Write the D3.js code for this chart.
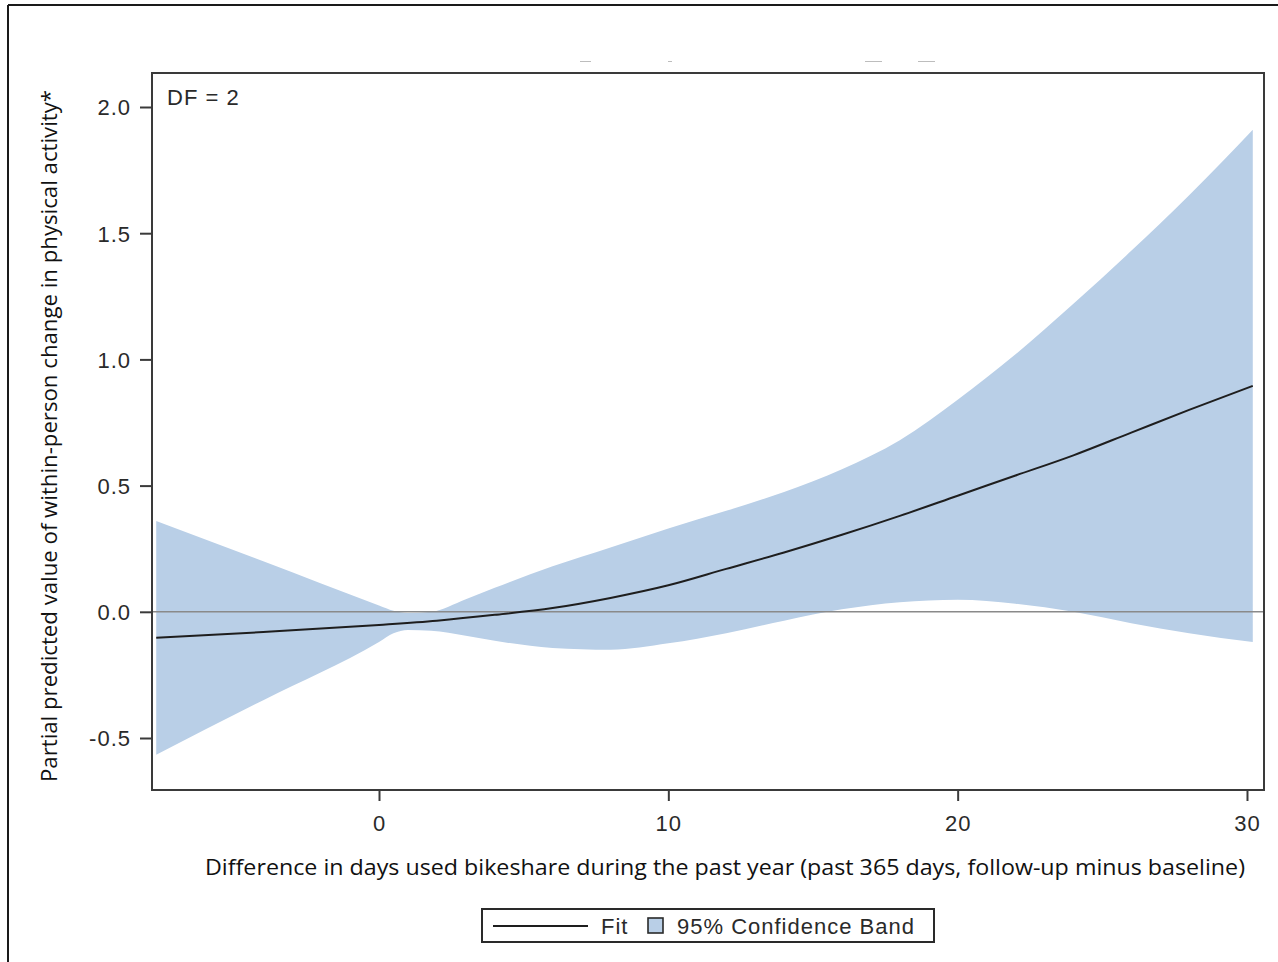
<!DOCTYPE html>
<html><head><meta charset="utf-8">
<script src="https://cdn.jsdelivr.net/npm/d3@7"></script>
<style>html,body{margin:0;padding:0;background:#fff;}svg{display:block;}</style>
</head><body>
<svg id="chart" width="1278" height="962"></svg>
<script>
// ---- data ----
const xVals   = [-7.7, -4, 0, 0.5, 1, 1.8, 3, 4, 6, 8, 10, 12, 14, 16, 18, 20, 22, 24, 26, 28, 30.2];
const upper   = [0.36, 0.20, 0.025, 0.004, -0.005, 0.0, 0.05, 0.095, 0.18, 0.255, 0.33, 0.40, 0.475, 0.565, 0.68, 0.84, 1.02, 1.22, 1.43, 1.65, 1.91];
const lower   = [-0.566, -0.35, -0.12, -0.085, -0.072, -0.075, -0.095, -0.115, -0.143, -0.15, -0.125, -0.085, -0.035, 0.01, 0.038, 0.048, 0.032, 0.0, -0.045, -0.085, -0.12];
const fitX    = [-7.7, -4, 0, 2, 4, 6, 8, 10, 12, 14, 16, 18, 20, 22, 24, 26, 28, 30.2];
const fitY    = [-0.103, -0.08, -0.052, -0.035, -0.012, 0.015, 0.055, 0.105, 0.17, 0.235, 0.305, 0.38, 0.46, 0.54, 0.62, 0.71, 0.80, 0.895];
const xTicks  = [0, 10, 20, 30];
const yTicks  = [-0.5, 0.0, 0.5, 1.0, 1.5, 2.0];
const xDomain = [-7.846, 30.588];
const yDomain = [-0.706, 2.1347];
const xTitle  = "Difference in days used bikeshare during the past year (past 365 days, follow-up minus baseline)";
const yTitle  = "Partial predicted value of within-person change in physical activity*";
const insetText = "DF = 2";
const legendItems = ["Fit", "95% Confidence Band"];

// ---- layout ----
const L = 152, R = 1264, T = 73, B = 790;
const svg = d3.select("#chart");
const x = d3.scaleLinear().domain(xDomain).range([L, R]);
const y = d3.scaleLinear().domain(yDomain).range([B, T]);
const frameCol = "#3a3a3a";
const bandCol = "#b9cfe7";
const tickFont = "'Liberation Sans', Arial, sans-serif";
const labelFont = "'Open Sans', 'Noto Sans', sans-serif";
const tickSize = "22px", tickSpacing = "1px";

// outer border (cropped figure frame)
svg.append("line").attr("x1", 8).attr("y1", 5).attr("x2", 1278).attr("y2", 5).attr("stroke", "#1a1a1a").attr("stroke-width", 2);
svg.append("line").attr("x1", 8).attr("y1", 5).attr("x2", 8).attr("y2", 962).attr("stroke", "#1a1a1a").attr("stroke-width", 2);

// faint remnants of cut-off title
[[580, 591], [668, 672], [865, 882], [918, 935]].forEach(([a, b]) => {
  svg.append("line").attr("x1", a).attr("x2", b).attr("y1", 61.5).attr("y2", 61.5)
    .attr("stroke", "#bdbdbd").attr("stroke-width", 1);
});

// band
const bandData = xVals.map((v, i) => ({x: v, lo: lower[i], hi: upper[i]}));
const area = d3.area().x(d => x(d.x)).y0(d => y(d.lo)).y1(d => y(d.hi)).curve(d3.curveMonotoneX);
svg.append("path").datum(bandData).attr("d", area).attr("fill", bandCol);

// zero reference line
svg.append("line").attr("x1", L).attr("x2", R).attr("y1", y(0)).attr("y2", y(0))
  .attr("stroke", "#8a8a8a").attr("stroke-width", 1.6);

// fit line
const fitData = fitX.map((v, i) => ({x: v, y: fitY[i]}));
const line = d3.line().x(d => x(d.x)).y(d => y(d.y)).curve(d3.curveMonotoneX);
svg.append("path").datum(fitData).attr("d", line).attr("fill", "none")
  .attr("stroke", "#1e1e1e").attr("stroke-width", 2);

// frame
svg.append("rect").attr("x", L).attr("y", T).attr("width", R - L).attr("height", B - T)
  .attr("fill", "none").attr("stroke", frameCol).attr("stroke-width", 2);

// axes
const xAxis = d3.axisBottom(x).tickValues(xTicks).tickFormat(d => String(d)).tickSize(11).tickPadding(14);
const gx = svg.append("g").attr("transform", `translate(0,${B})`).call(xAxis);
const yAxis = d3.axisLeft(y).tickValues(yTicks).tickFormat(d => d.toFixed(1)).tickSize(12).tickPadding(9);
const gy = svg.append("g").attr("transform", `translate(${L},0)`).call(yAxis);
[gx, gy].forEach(g => {
  g.select(".domain").remove();
  g.selectAll(".tick line").attr("stroke", frameCol).attr("stroke-width", 2);
  g.selectAll(".tick text").attr("fill", "#2a2a2a").style("font-family", tickFont)
    .style("font-size", tickSize).style("letter-spacing", tickSpacing);
});
gy.selectAll(".tick text").attr("dy", "0.36em");

// inset text
svg.append("text").attr("x", 167).attr("y", 105).text(insetText)
  .style("font-family", tickFont).style("font-size", tickSize).style("letter-spacing", tickSpacing).attr("fill", "#2a2a2a");

// axis titles
svg.append("text").attr("x", 205).attr("y", 875).text(xTitle)
  .attr("textLength", 1040).attr("lengthAdjust", "spacingAndGlyphs")
  .style("font-family", labelFont).style("font-size", "21px").attr("fill", "#111");
svg.append("text").attr("transform", "translate(57,782) rotate(-90)").text(yTitle)
  .attr("textLength", 692).attr("lengthAdjust", "spacingAndGlyphs")
  .style("font-family", labelFont).style("font-size", "21px").attr("fill", "#111");

// legend
const lg = svg.append("g");
lg.append("rect").attr("x", 482).attr("y", 909).attr("width", 452).attr("height", 33)
  .attr("fill", "#fff").attr("stroke", "#2a2a2a").attr("stroke-width", 2);
lg.append("line").attr("x1", 493).attr("x2", 588).attr("y1", 926).attr("y2", 926)
  .attr("stroke", "#1e1e1e").attr("stroke-width", 2);
lg.append("text").attr("x", 601).attr("y", 934).text(legendItems[0])
  .style("font-family", tickFont).style("font-size", tickSize).style("letter-spacing", tickSpacing).attr("fill", "#2a2a2a");
lg.append("rect").attr("x", 648).attr("y", 918).attr("width", 15).attr("height", 15)
  .attr("fill", bandCol).attr("stroke", "#2a2a2a").attr("stroke-width", 1.6);
lg.append("text").attr("x", 677).attr("y", 934).text(legendItems[1])
  .style("font-family", tickFont).style("font-size", tickSize).style("letter-spacing", tickSpacing).attr("fill", "#2a2a2a");
</script>
</body></html>
